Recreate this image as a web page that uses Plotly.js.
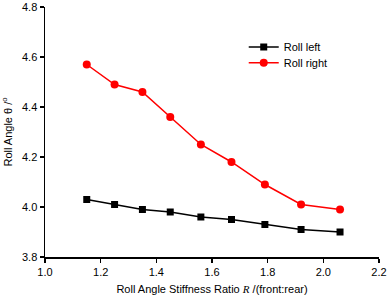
<!DOCTYPE html>
<html><head><meta charset="utf-8">
<script src="https://cdn.plot.ly/plotly-3.0.1.min.js"></script>
<style>body{margin:0;background:#fff}#c{width:388px;height:296px}</style>
</head><body><div id="c"></div>
<script>
const ratio = [1.15, 1.25, 1.35, 1.45, 1.56, 1.67, 1.79, 1.92, 2.06];
const rollLeft = [4.03, 4.01, 3.99, 3.98, 3.96, 3.95, 3.93, 3.91, 3.90];
const rollRight = [4.57, 4.49, 4.46, 4.36, 4.25, 4.18, 4.09, 4.01, 3.99];
const xTicks = [1.0, 1.2, 1.4, 1.6, 1.8, 2.0, 2.2];
const yTicks = [3.8, 4.0, 4.2, 4.4, 4.6, 4.8];

const traces = [
  {x: ratio, y: rollLeft, name: 'Roll left', mode: 'lines+markers', type: 'scatter', legend: 'legend',
   line: {color: '#000000', width: 1.5}, marker: {symbol: 'square', size: 7, color: '#000000'}},
  {x: ratio, y: rollRight, name: 'Roll right', mode: 'lines+markers', type: 'scatter', legend: 'legend2',
   line: {color: '#ff0000', width: 1.5}, marker: {symbol: 'circle', size: 8, color: '#ff0000'}}
];
const axisCommon = {
  showgrid: false, zeroline: false, showline: true, linecolor: '#000', linewidth: 1.5,
  ticks: 'outside', ticklen: 4, tickwidth: 1.5, tickcolor: '#000',
  tickfont: {family: 'Liberation Sans, Arial, sans-serif', size: 11, color: '#000'}
};
const legendCommon = {x: 0.595, xanchor: 'left', yanchor: 'top', bgcolor: 'rgba(0,0,0,0)',
                      font: {size: 11}, itemwidth: 30};
const layout = {
  width: 388, height: 296,
  margin: {l: 45, r: 9, t: 7, b: 39},
  paper_bgcolor: '#fff', plot_bgcolor: '#fff',
  font: {family: 'Liberation Sans, Arial, sans-serif', size: 11, color: '#000'},
  xaxis: Object.assign({}, axisCommon, {
    range: [1.0, 2.2], tickvals: xTicks, ticktext: xTicks.map(v => v.toFixed(1)),
    title: {text: 'Roll Angle Stiffness Ratio <span style="font-family:Liberation Serif, Times New Roman, serif"><i>R</i></span> /(front:rear)',
            font: {size: 11}, standoff: 8}
  }),
  yaxis: Object.assign({}, axisCommon, {
    range: [3.8, 4.8], tickvals: yTicks, ticktext: yTicks.map(v => v.toFixed(1)),
    ticklabeloverflow: 'allow',
    title: {text: 'Roll Angle θ /<sup>o</sup>', font: {size: 11}, standoff: 8}
  }),
  legend: Object.assign({}, legendCommon, {y: 0.898}),
  legend2: Object.assign({}, legendCommon, {y: 0.835}),
  showlegend: true
};
Plotly.newPlot('c', traces, layout, {displayModeBar: false, staticPlot: true});
</script></body></html>
